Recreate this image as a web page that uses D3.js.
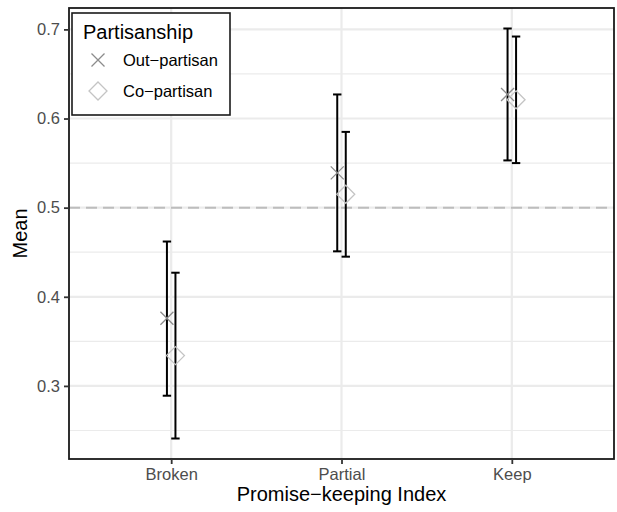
<!DOCTYPE html>
<html><head><meta charset="utf-8">
<script src="https://cdn.jsdelivr.net/npm/d3@7"></script>
<style>body{margin:0;background:#fff}svg{display:block;font-family:"Liberation Sans",Arial,sans-serif}</style>
</head><body><svg id="c" width="617" height="512"></svg>
<script>
const categories = ["Broken","Partial","Keep"];
const groups = ["Out\u2212partisan","Co\u2212partisan"];
const outMean = [0.376, 0.539, 0.627];
const outLower = [0.289, 0.451, 0.553];
const outUpper = [0.462, 0.627, 0.701];
const coMean = [0.334, 0.515, 0.621];
const coLower = [0.241, 0.445, 0.550];
const coUpper = [0.427, 0.585, 0.692];
const yTicks = [0.3, 0.4, 0.5, 0.6, 0.7];
const yMinor = [0.25, 0.35, 0.45, 0.55, 0.65];
const refLine = 0.5;

const svg = d3.select("#c");
const L = 69, R = 614, T = 8, B = 459;

const allV = outLower.concat(outUpper, coLower, coUpper);
const lo = d3.min(allV), hi = d3.max(allV), rg = hi - lo;
const y = d3.scaleLinear().domain([lo - 0.05*rg, hi + 0.05*rg]).range([B, T]);
const x = d3.scalePoint().domain(categories).range([L, R]).padding(0.6);
const unit = x.step();
const dodge = [-0.025*unit, 0.025*unit];

// grid
const g = svg.append("g");
g.selectAll(".ymin").data(yMinor).join("line")
  .attr("x1", L).attr("x2", R).attr("y1", d=>y(d)).attr("y2", d=>y(d))
  .attr("stroke", "#EBEBEB").attr("stroke-width", 1.2);
g.selectAll(".ymaj").data(yTicks).join("line")
  .attr("x1", L).attr("x2", R).attr("y1", d=>y(d)).attr("y2", d=>y(d))
  .attr("stroke", "#EBEBEB").attr("stroke-width", 2.2);
g.selectAll(".xmaj").data(categories).join("line")
  .attr("x1", d=>x(d)).attr("x2", d=>x(d)).attr("y1", T).attr("y2", B)
  .attr("stroke", "#EBEBEB").attr("stroke-width", 2.2);

// reference line
svg.append("line").attr("x1", L).attr("x2", R).attr("y1", y(refLine)).attr("y2", y(refLine))
  .attr("stroke", "#BDBDBD").attr("stroke-width", 2).attr("stroke-dasharray", "11,6");

// data
const series = [
  {name: groups[0], mean: outMean, lower: outLower, upper: outUpper, dx: dodge[0], shape: "x"},
  {name: groups[1], mean: coMean, lower: coLower, upper: coUpper, dx: dodge[1], shape: "d"}
];
const capW = 4.2;
series.forEach(s => {
  const rows = categories.map((c, i) => ({c, m: s.mean[i], l: s.lower[i], u: s.upper[i]}));
  const eb = svg.append("g").attr("stroke", "#000").attr("stroke-width", 2).attr("fill", "none");
  eb.selectAll(".v").data(rows).join("line")
    .attr("x1", d=>x(d.c)+s.dx).attr("x2", d=>x(d.c)+s.dx)
    .attr("y1", d=>y(d.l)).attr("y2", d=>y(d.u));
  eb.selectAll(".t").data(rows).join("line")
    .attr("x1", d=>x(d.c)+s.dx-capW).attr("x2", d=>x(d.c)+s.dx+capW)
    .attr("y1", d=>y(d.u)).attr("y2", d=>y(d.u));
  eb.selectAll(".b").data(rows).join("line")
    .attr("x1", d=>x(d.c)+s.dx-capW).attr("x2", d=>x(d.c)+s.dx+capW)
    .attr("y1", d=>y(d.l)).attr("y2", d=>y(d.l));
  s.rows = rows;
});
function drawShape(sel, shape) {
  if (shape === "x") {
    sel.append("path").attr("d", "M-6.5,-6.5L6.5,6.5M-6.5,6.5L6.5,-6.5")
      .attr("stroke", "#8C8C8C").attr("stroke-width", 1.3).attr("fill", "none");
  } else {
    sel.append("path").attr("d", "M0,-9L9,0L0,9L-9,0Z")
      .attr("stroke", "#C4C4C4").attr("stroke-width", 1.3).attr("fill", "none");
  }
}
series.forEach(s => {
  svg.append("g").selectAll("g").data(s.rows).join("g")
    .attr("transform", d=>`translate(${x(d.c)+s.dx},${y(d.m)})`)
    .each(function(){ drawShape(d3.select(this), s.shape); });
});

// panel border
svg.append("rect").attr("x", L).attr("y", T).attr("width", R-L).attr("height", B-T)
  .attr("fill", "none").attr("stroke", "#1A1A1A").attr("stroke-width", 1.8);

// axes
const yAxis = svg.append("g").attr("transform", `translate(${L},0)`)
  .call(d3.axisLeft(y).tickValues(yTicks).tickFormat(d3.format(".1f")).tickSize(5).tickPadding(4));
const xAxis = svg.append("g").attr("transform", `translate(0,${B})`)
  .call(d3.axisBottom(x).tickSize(5).tickPadding(4));
[yAxis, xAxis].forEach(a => {
  a.select(".domain").remove();
  a.selectAll(".tick line").attr("stroke", "#333").attr("stroke-width", 1.8);
  a.selectAll(".tick text").attr("fill", "#4D4D4D").style("font-size", "16.5px")
   .style("font-family", '"Liberation Sans",Arial,sans-serif');
});
xAxis.selectAll(".tick text").attr("dy", "0.72em");

svg.append("text").attr("x", (L+R)/2).attr("y", 501).attr("text-anchor", "middle")
  .style("font-size", "20px").attr("fill", "#000").text("Promise\u2212keeping Index");
svg.append("text").attr("transform", `translate(27,${(T+B)/2}) rotate(-90)`).attr("text-anchor", "middle")
  .style("font-size", "20px").attr("fill", "#000").text("Mean");

// legend
const lg = svg.append("g");
lg.append("rect").attr("x", 72).attr("y", 13).attr("width", 158).attr("height", 102)
  .attr("fill", "#fff").attr("stroke", "#1A1A1A").attr("stroke-width", 1.6);
lg.append("text").attr("x", 83).attr("y", 39).style("font-size", "20px").attr("fill", "#000").text("Partisanship");
series.forEach((s, i) => {
  const yy = 60 + i*31;
  const it = lg.append("g").attr("transform", `translate(98,${yy})`);
  drawShape(it, s.shape);
  lg.append("text").attr("x", 123).attr("y", yy + 5.5).style("font-size", "16.5px").attr("fill", "#000").text(s.name);
});
</script></body></html>
